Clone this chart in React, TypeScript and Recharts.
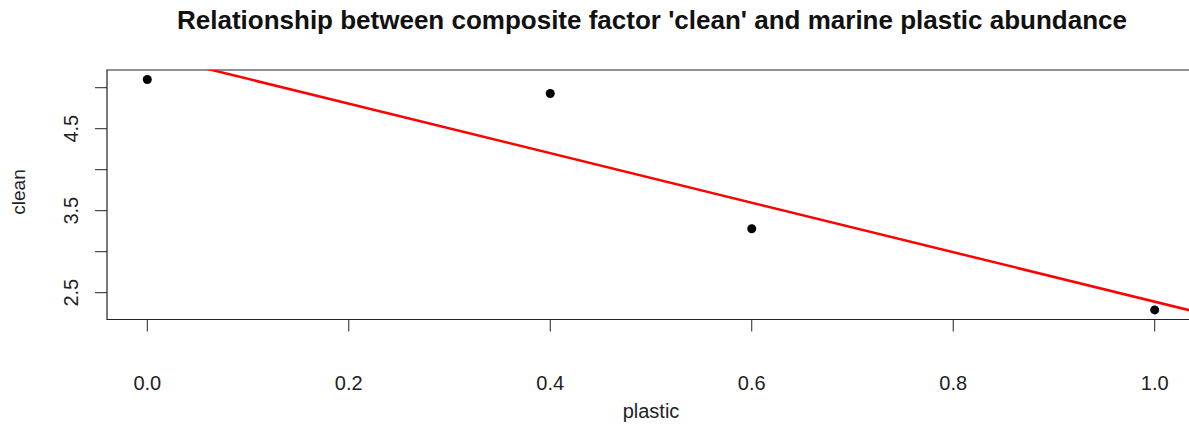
import React from "react";
import {
  ComposedChart,
  Scatter,
  Line,
  XAxis,
  YAxis,
  ReferenceArea,
} from "recharts";

// observed points
const plasticValues = [0, 0.4, 0.6, 1.0];
const cleanValues = [5.1, 4.93, 3.28, 2.29];

const xTicks = [0, 0.2, 0.4, 0.6, 0.8, 1.0];
const yTicks = [2.5, 3.0, 3.5, 4.0, 4.5, 5.0];
const yTickLabels = [2.5, 3.5, 4.5]; // R skips labels that would overlap

const xDomain: [number, number] = [-0.04, 1.04];
const yDomain: [number, number] = [2.173, 5.216];

const TITLE = "Relationship between composite factor 'clean' and marine plastic abundance";
const FONT = "'Liberation Sans', Arial, sans-serif";
const INK = "#222";

const points = plasticValues.map((p, i) => ({ plastic: p, clean: cleanValues[i] }));

// least squares fit, like abline(lm(clean ~ plastic))
function fitLine(xs: number[], ys: number[]) {
  const n = xs.length;
  const mx = xs.reduce((a, b) => a + b, 0) / n;
  const my = ys.reduce((a, b) => a + b, 0) / n;
  let sxy = 0;
  let sxx = 0;
  xs.forEach((x, i) => {
    sxy += (x - mx) * (ys[i] - my);
    sxx += (x - mx) * (x - mx);
  });
  const slope = sxy / sxx;
  return { slope, intercept: my - slope * mx };
}

const fit = fitLine(plasticValues, cleanValues);
const fitData = xDomain.map((x) => ({ plastic: x, clean: fit.intercept + fit.slope * x }));

function XTick(props: any) {
  const { x, payload } = props;
  return (
    <text x={x} y={390} textAnchor="middle" fontSize={20} fill={INK} fontFamily={FONT}>
      {Number(payload.value).toFixed(1)}
    </text>
  );
}

function YTick(props: any) {
  const { y, payload } = props;
  if (!yTickLabels.includes(payload.value)) return <g />;
  return (
    <text
      x={78}
      y={y}
      transform={`rotate(-90, 78, ${y})`}
      textAnchor="middle"
      fontSize={20}
      fill={INK}
      fontFamily={FONT}
    >
      {Number(payload.value).toFixed(1)}
    </text>
  );
}

export default function App() {
  return (
    <div
      style={{
        position: "absolute",
        left: 0,
        top: 0,
        width: 1189,
        height: 425,
        overflow: "hidden",
        background: "#fff",
        fontFamily: FONT,
      }}
    >
      <svg width={1189} height={40} style={{ position: "absolute", left: 0, top: 0 }}>
        <text x={652} y={29} textAnchor="middle" fontSize={26} fontWeight="bold" fill="#111" fontFamily={FONT}>
          {TITLE}
        </text>
      </svg>
      <ComposedChart
        width={1200}
        height={425}
        margin={{ top: 70, right: 5, bottom: 5.5, left: 7 }}
        style={{ position: "absolute", left: 0, top: 0 }}
      >
        <XAxis
          dataKey="plastic"
          type="number"
          domain={xDomain}
          allowDataOverflow
          ticks={xTicks}
          tick={<XTick />}
          tickSize={12}
          tickLine={{ stroke: INK }}
          axisLine={false}
          height={100}
          label={{
            content: () => (
              <text x={651} y={418} textAnchor="middle" fontSize={20} fill={INK} fontFamily={FONT}>
                plastic
              </text>
            ),
          }}
        />
        <YAxis
          dataKey="clean"
          type="number"
          domain={yDomain}
          allowDataOverflow
          ticks={yTicks}
          tick={<YTick />}
          tickSize={12}
          tickLine={{ stroke: INK }}
          axisLine={false}
          width={100}
          label={{
            content: () => (
              <text
                x={25}
                y={192}
                transform="rotate(-90, 25, 192)"
                textAnchor="middle"
                fontSize={19}
                fill={INK}
                fontFamily={FONT}
              >
                clean
              </text>
            ),
          }}
        />
        <ReferenceArea
          x1={xDomain[0]}
          x2={xDomain[1]}
          y1={yDomain[0]}
          y2={yDomain[1]}
          fill="none"
          fillOpacity={0}
          stroke={INK}
          strokeWidth={1.2}
          strokeOpacity={1}
        />
        <Scatter data={points} dataKey="clean" fill="#000" isAnimationActive={false} shape={(p: any) => <circle cx={p.cx} cy={p.cy} r={4.5} fill="#000" />} />
        <Line
          data={fitData}
          dataKey="clean"
          type="linear"
          stroke="#ff0000"
          strokeWidth={2.5}
          dot={false}
          activeDot={false}
          isAnimationActive={false}
        />
      </ComposedChart>
    </div>
  );
}
